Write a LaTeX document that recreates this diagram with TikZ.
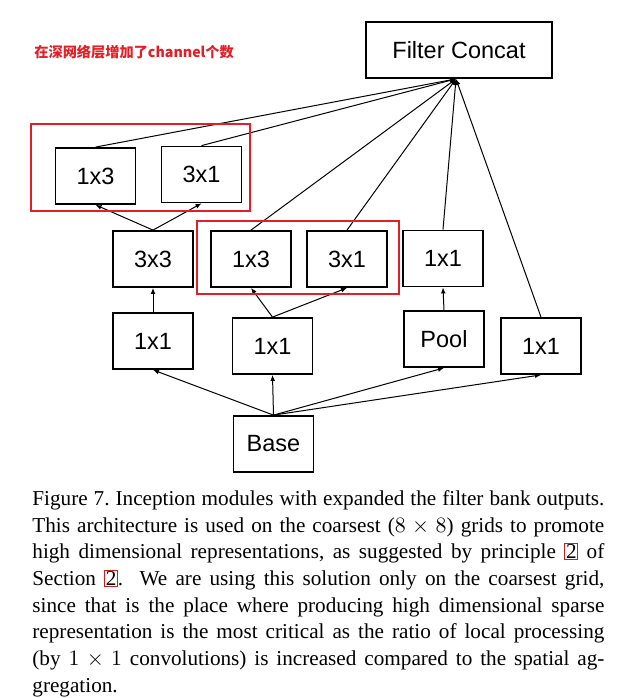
\documentclass[tikz,border=0pt]{standalone}
\usepackage{fontspec}
\setmainfont{Liberation Serif}
\newfontfamily\boxfont{Liberation Sans}
\newfontfamily\cjk{Noto Sans CJK SC}
\usetikzlibrary{arrows.meta}
\definecolor{markred}{RGB}{228,30,38}
\definecolor{linkred}{RGB}{200,30,30}
\tikzset{layer/.style={draw, line width=0.9pt, minimum width=40pt, minimum height=28pt, inner sep=0pt,
    font={\boxfont\fontsize{11.75pt}{14pt}\selectfont}},
    flow/.style={-{Latex[length=3pt,width=2.4pt]}, line width=0.5pt},
    group/.style={draw=markred, line width=0.7pt}}
\newcommand\reflink[1]{{\setlength\fboxsep{0.3pt}\setlength\fboxrule{0.5pt}\color{linkred}\fbox{\color{black}#1}}}
\newcommand\capline[1]{\makebox[286pt][s]{#1}}

\begin{document}
\begin{tikzpicture}[x=0.5pt, y=-0.5pt]
    \useasboundingbox (0,0) rectangle (626,698);
    % Layers of the module
    \node[layer, minimum width=93pt] (concat) at (459,50) {Filter Concat};
    \node[layer] (top13) at (95.5,176) {1x3};
    \node[layer] (top31) at (201.5,174.5) {3x1};
    \node[layer] (c33) at (153,259) {3x3};
    \node[layer] (mid13) at (251,259) {1x3};
    \node[layer] (mid31) at (347,259) {3x1};
    \node[layer] (poolout) at (443,258.5) {1x1};
    \node[layer] (left11) at (153,341) {1x1};
    \node[layer] (mid11) at (272.5,346) {1x1};
    \node[layer] (pool) at (444,339) {Pool};
    \node[layer] (right11) at (541,346) {1x1};
    \node[layer] (base) at (273.5,444) {Base};
    \coordinate (merge) at ([xshift=-1.5pt]concat.south);
    %
    \foreach \n in {left11,mid11,pool,right11}
        \draw[flow] (base.north) -- (\n.south);
    \draw[flow] (left11.north) -- (c33.south);
    \foreach \n in {top13,top31}
        \draw[flow] (c33.north) -- (\n.south);
    \foreach \n in {mid13,mid31}
        \draw[flow] (mid11.north) -- (\n.south);
    \draw[flow] (pool.north) -- (poolout.south);
    \foreach \n in {top13,top31,mid13,mid31,poolout,right11}
        \draw[flow] (\n.north) -- (merge);
    % Red marks
    \draw[group] (31,124) rectangle (250,211);
    \draw[group] (197,221) rectangle (399,294);
    \node[anchor=west, text=markred, inner sep=0pt, font={\cjk\bfseries\fontsize{7.1pt}{9pt}\selectfont}] (note) at (34,52) {在深网络层增加了channel个数};
    % Caption
    \node[anchor=north west, inner sep=0pt, align=left, font={\fontsize{10.6pt}{13.35pt}\selectfont\frenchspacing}] (caption) at (32,490) {%
        \capline{Figure 7. Inception modules with expanded the filter bank outputs.}\\
        \capline{This architecture is used on the coarsest ($8\times8$) grids to promote}\\
        \capline{high dimensional representations, as suggested by principle \reflink{2} of}\\
        \capline{Section \reflink{2}.\ \ We are using this solution only on the coarsest grid,}\\
        \capline{since that is the place where producing high dimensional sparse}\\
        \capline{representation is the most critical as the ratio of local processing}\\
        \capline{(by $1\times1$ convolutions) is increased compared to the spatial ag-}\\
        gregation.};
\end{tikzpicture}
\end{document}
